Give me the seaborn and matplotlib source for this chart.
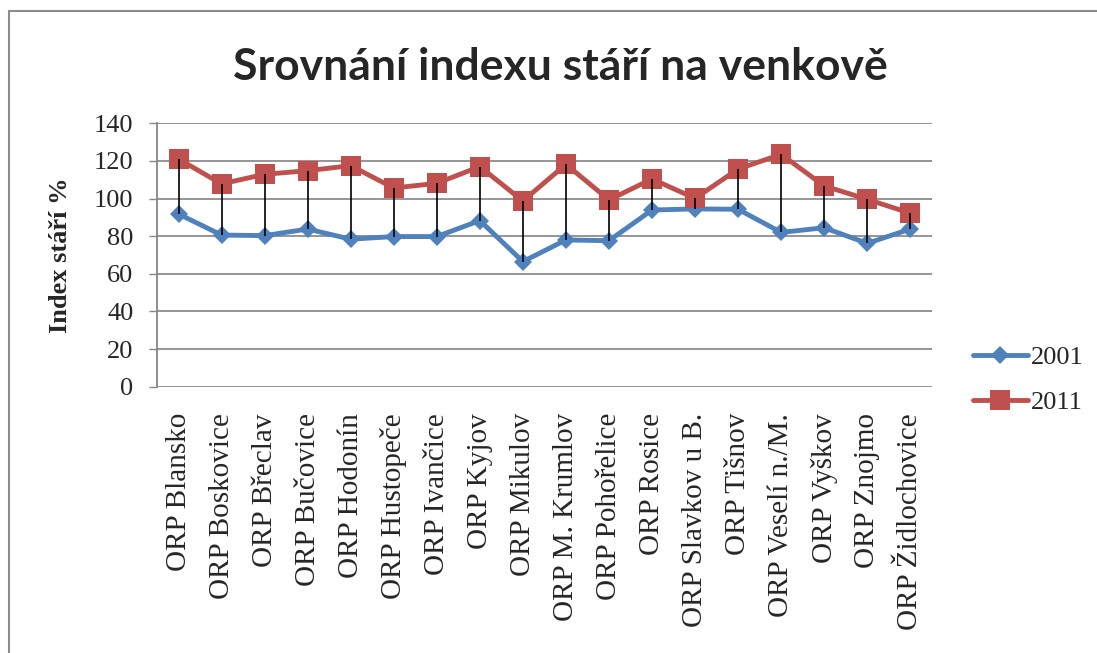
import matplotlib
matplotlib.use('Agg')
import matplotlib.pyplot as plt
import pandas as pd
import seaborn as sns

# ORP districts, index of ageing in rural areas
regions = ['ORP Blansko', 'ORP Boskovice', 'ORP Břeclav', 'ORP Bučovice', 'ORP Hodonín',
           'ORP Hustopeče', 'ORP Ivančice', 'ORP Kyjov', 'ORP Mikulov', 'ORP M. Krumlov',
           'ORP Pohořelice', 'ORP Rosice', 'ORP Slavkov u B.', 'ORP Tišnov', 'ORP Veselí n./M.',
           'ORP Vyškov', 'ORP Znojmo', 'ORP Židlochovice']
values_2001 = [91.8, 80.6, 80.3, 83.8, 78.4, 79.8, 79.8, 88.3, 66.5,
               78.0, 77.6, 93.9, 94.5, 94.3, 82.0, 84.5, 76.2, 83.8]
values_2011 = [121.0, 107.8, 112.9, 114.8, 117.5, 105.6, 108.1, 117.0, 98.7,
               118.2, 99.3, 110.4, 100.1, 115.7, 123.5, 106.7, 99.6, 92.2]
years = ['2001', '2011']
yticks = [0, 20, 40, 60, 80, 100, 120, 140]

df = pd.DataFrame({
    'Region': regions * 2,
    'Rok': [years[0]] * len(regions) + [years[1]] * len(regions),
    'Index': values_2001 + values_2011,
})
df['pos'] = list(range(len(regions))) * 2

sns.set_style('white')
plt.rcParams['font.family'] = ['Liberation Serif', 'DejaVu Serif']

fig = plt.figure(figsize=(10.97, 6.53), dpi=100)
ax = fig.add_axes([157 / 1097, 1 - 386.7 / 653, (931.8 - 157) / 1097, (386.7 - 123.3) / 653])

palette = {'2001': '#4F81BD', '2011': '#C0504D'}
markers = {'2001': 'D', '2011': 's'}
msize = {'2001': 9.5, '2011': 14}
sns.lineplot(data=df, x='pos', y='Index', hue='Rok', style='Rok', palette=palette,
             markers=markers, dashes=False, linewidth=3.5, markeredgewidth=0,
             ax=ax, legend=False, zorder=3)
for line in ax.lines:
    line.set_markersize(msize['2011'] if line.get_marker() == 's' else msize['2001'])

# high-low lines between the two years
ax.vlines(range(len(regions)), values_2001, values_2011, colors='black', linewidth=1.2, zorder=4)

ax.set_xlim(-0.5, len(regions) - 0.5)
ax.set_ylim(0, 140)
ax.set_yticks(yticks)
ax.set_xticks(range(len(regions)))
ax.set_xticklabels(regions, rotation=90, va='top', ha='center')
ax.tick_params(axis='x', length=0, pad=19, labelsize=21)
ax.tick_params(axis='y', length=6, width=1, color='#868686', pad=11, labelsize=19, direction='out', left=True)
ax.yaxis.grid(True, color='#8c8c8c', linewidth=1.3)
ax.set_axisbelow(True)
for side in ['top', 'right', 'bottom']:
    ax.spines[side].set_visible(False)
ax.spines['left'].set_color('#868686')
ax.spines['left'].set_linewidth(1.3)
ax.set_xlabel('')
ax.set_ylabel('Index stáří %', fontsize=19, fontweight='bold', labelpad=16)

fig.text(560 / 1097, 1 - 67 / 653, 'Srovnání indexu stáří na venkově', ha='center', va='center',
         fontsize=32, fontweight='bold', family=['Lato', 'DejaVu Sans'])

handles = [plt.Line2D([], [], color=palette[y], marker=markers[y], linewidth=3.5,
                      markersize=msize[y], markeredgewidth=0) for y in years]
fig.legend(handles, years, loc='upper left', bbox_to_anchor=(949 / 1097, 1 - 322 / 653),
           frameon=False, fontsize=19, handlelength=2.1, handletextpad=0.1, labelspacing=0.82)

# outer chart frame (top and left edges visible)
fig.add_artist(plt.Line2D([9 / 1097, 9 / 1097], [0, 1 - 11 / 653], transform=fig.transFigure,
                          color='#8c8c8c', linewidth=1.5))
fig.add_artist(plt.Line2D([9 / 1097, 1], [1 - 11 / 653, 1 - 11 / 653], transform=fig.transFigure,
                          color='#8c8c8c', linewidth=1.5))

fig.savefig('out.png', dpi=100)
